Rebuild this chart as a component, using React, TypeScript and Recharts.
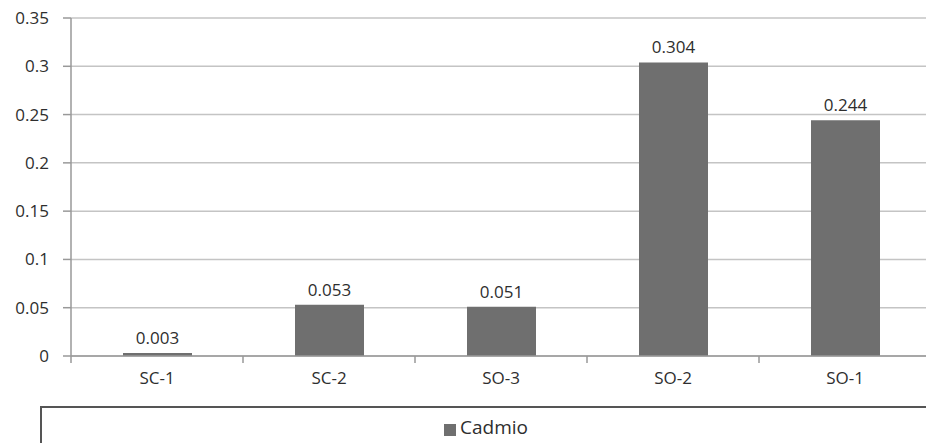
import { BarChart, Bar, XAxis, YAxis, CartesianGrid, Legend, LabelList } from "recharts";

const categories = ["SC-1", "SC-2", "SO-3", "SO-2", "SO-1"];
const cadmio = [0.003, 0.053, 0.051, 0.304, 0.244];
const yTicks = [0, 0.05, 0.1, 0.15, 0.2, 0.25, 0.3, 0.35];

const data = categories.map((name, i) => ({ name, cadmio: cadmio[i] }));

const CHART_W = 931;
const PLOT_LEFT = 71;
const BAND = (CHART_W - PLOT_LEFT) / categories.length;

const font = "'Open Sans', 'Noto Sans', sans-serif";

function CategoryTick(props: any) {
  const { x, y, payload } = props;
  const left = x - BAND / 2;
  return (
    <g>
      <line x1={left} y1={y - 8} x2={left} y2={y - 1} stroke="#999" strokeWidth={1.5} />
      <text x={x} y={y + 20} textAnchor="middle" fill="#2e2e2e" fontSize={17} fontFamily={font}>
        {payload.value}
      </text>
    </g>
  );
}

export default function App() {
  return (
    <div style={{ position: "absolute", left: 0, top: 0, background: "#fff", width: 926, height: 443, overflow: "hidden" }}>
      <BarChart width={CHART_W} height={443} data={data} margin={{ top: 18, right: 0, bottom: 0, left: 0 }}>
        <CartesianGrid vertical={false} stroke="#c4c4c4" strokeWidth={1.5} />
        <XAxis
          dataKey="name"
          height={50}
          axisLine={{ stroke: "#999", strokeWidth: 1.5 }}
          tickLine={false}
          tick={<CategoryTick />}
          interval={0}
        />
        <YAxis
          width={PLOT_LEFT}
          domain={[0, 0.35]}
          ticks={yTicks}
          axisLine={{ stroke: "#999", strokeWidth: 1.5 }}
          tickLine={{ stroke: "#999", strokeWidth: 1.5 }}
          tickSize={8}
          tickMargin={14}
          tick={{ fill: "#2e2e2e", fontSize: 17, fontFamily: font }}
        />
        <Legend
          verticalAlign="bottom"
          align="center"
          height={37}
          iconType="square"
          iconSize={12}
          formatter={(v: string) => (
            <span style={{ color: "#2e2e2e", fontSize: 19, fontFamily: font }}>{v}</span>
          )}
          wrapperStyle={{
            left: 40,
            width: 900,
            height: 37,
            borderTop: "2px solid #555",
            borderLeft: "2px solid #555",
            boxSizing: "border-box",
            paddingTop: 6,
            overflow: "hidden",
          }}
        />
        <Bar dataKey="cadmio" name="Cadmio" fill="#6f6f6f" barSize={69} isAnimationActive={false}>
          <LabelList
            dataKey="cadmio"
            position="top"
            offset={9}
            fill="#2e2e2e"
            fontSize={17}
            fontFamily={font}
          />
        </Bar>
      </BarChart>
    </div>
  );
}
